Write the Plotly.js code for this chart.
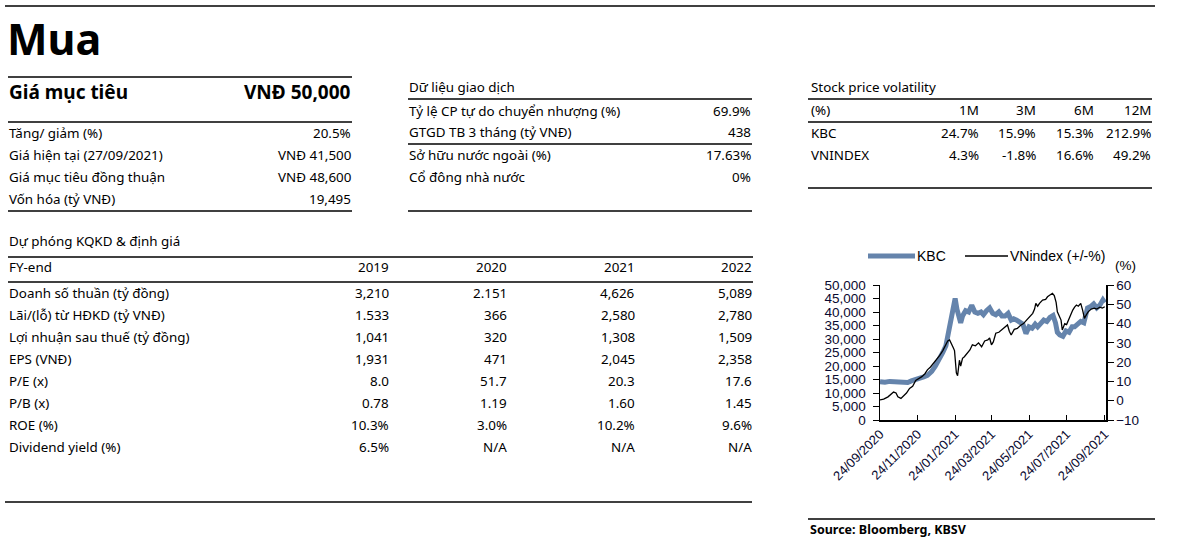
<!DOCTYPE html>
<html><head><meta charset="utf-8">
<script src="https://cdn.plot.ly/plotly-3.0.1.min.js"></script>
<style>html,body{margin:0;padding:0;background:#fff;overflow:hidden}#chart{width:1178px;height:538px}</style>
</head><body><div id="chart"></div>
<script>
// ---------- chart data ----------
const kbcDates = ['2020-09-24','2020-10-02','2020-10-10','2020-10-18','2020-10-26','2020-11-03','2020-11-08','2020-11-14','2020-11-21','2020-11-27','2020-12-04','2020-12-10','2020-12-17','2020-12-23','2020-12-30','2021-01-04','2021-01-09','2021-01-12','2021-01-15','2021-01-18','2021-01-22','2021-01-24','2021-01-27','2021-01-30','2021-02-02','2021-02-05','2021-02-10','2021-02-15','2021-02-20','2021-02-25','2021-03-02','2021-03-07','2021-03-11','2021-03-16','2021-03-21','2021-03-26','2021-03-31','2021-04-05','2021-04-10','2021-04-15','2021-04-20','2021-04-25','2021-04-29','2021-05-04','2021-05-09','2021-05-14','2021-05-19','2021-05-24','2021-05-29','2021-06-03','2021-06-07','2021-06-12','2021-06-17','2021-06-22','2021-06-27','2021-07-02','2021-07-06','2021-07-09','2021-07-13','2021-07-18','2021-07-23','2021-07-28','2021-08-02','2021-08-06','2021-08-11','2021-08-16','2021-08-21','2021-08-24','2021-08-27','2021-09-01','2021-09-06','2021-09-11','2021-09-16','2021-09-21','2021-09-24'];
const kbcPrice = [14200,14000,14300,14100,13800,13600,13900,14500,15200,15800,16000,16500,18000,20000,22500,25000,27500,31000,34000,38500,42000,45000,41000,37500,36000,38500,40500,40000,42500,40000,39500,40000,39000,40500,41500,39500,39000,40000,38500,38500,39500,37000,37500,37000,36000,35500,32000,34500,34000,35500,34500,36000,37000,36500,38000,38700,36000,32500,31500,31000,33000,32500,34500,34500,35500,36500,36000,39500,41500,42000,43000,41500,42500,44500,43500];
const vniDates = ['2020-09-24','2020-09-30','2020-10-07','2020-10-12','2020-10-16','2020-10-20','2020-10-23','2020-10-28','2020-11-02','2020-11-06','2020-11-11','2020-11-16','2020-11-21','2020-11-26','2020-12-01','2020-12-06','2020-12-10','2020-12-15','2020-12-20','2020-12-25','2020-12-30','2021-01-04','2021-01-09','2021-01-12','2021-01-15','2021-01-18','2021-01-21','2021-01-23','2021-01-26','2021-01-28','2021-01-31','2021-02-02','2021-02-05','2021-02-08','2021-02-12','2021-02-17','2021-02-21','2021-02-26','2021-03-03','2021-03-08','2021-03-13','2021-03-18','2021-03-21','2021-03-24','2021-03-27','2021-03-31','2021-04-05','2021-04-09','2021-04-14','2021-04-19','2021-04-22','2021-04-25','2021-04-30','2021-05-05','2021-05-10','2021-05-15','2021-05-20','2021-05-25','2021-05-30','2021-06-02','2021-06-04','2021-06-07','2021-06-10','2021-06-15','2021-06-20','2021-06-23','2021-06-28','2021-07-01','2021-07-04','2021-07-07','2021-07-09','2021-07-12','2021-07-15','2021-07-17','2021-07-21','2021-07-24','2021-07-27','2021-07-30','2021-08-03','2021-08-06','2021-08-09','2021-08-12','2021-08-16','2021-08-19','2021-08-22','2021-08-25','2021-08-28','2021-09-02','2021-09-07','2021-09-11','2021-09-16','2021-09-20','2021-09-24'];
const vniChange = [0.4,0.8,2.0,3.5,4.5,4.0,2.0,1.2,3.0,4.0,6.4,7.5,10.5,11.5,12.5,14.0,16.0,17.5,19.5,21.0,23.5,26.0,29.5,31.0,31.5,29.0,27.5,26.0,14.5,13.0,21.0,18.0,22.0,22.8,24.5,26.3,29.0,28.5,30.0,28.0,31.0,31.5,32.5,29.0,30.5,35.0,35.5,36.5,38.0,39.3,36.0,34.1,37.0,37.5,39.0,40.0,41.8,43.5,45.3,47.5,50.5,49.0,50.5,52.2,52.5,53.9,55.0,55.7,54.5,51.0,46.1,43.5,41.8,36.7,40.0,39.5,42.0,44.0,47.0,48.5,49.6,49.0,50.5,47.0,42.7,44.5,46.1,47.5,48.0,47.5,48.5,48.0,48.7];
const xTickVals = ['2020-09-24','2020-11-24','2021-01-24','2021-03-24','2021-05-24','2021-07-24','2021-09-24'];
const xTickText = ['24/09/2020','24/11/2020','24/01/2021','24/03/2021','24/05/2021','24/07/2021','24/09/2021'];
const leftTickVals = [0,5000,10000,15000,20000,25000,30000,35000,40000,45000,50000];
const rightTickVals = [-10,0,10,20,30,40,50,60];
const seriesNames = ['KBC','VNindex (+/-%)'];

// ---------- table data ----------
const pageTitle = 'Mua';
const targetLabel = 'Giá mục tiêu';
const targetValue = 'VNĐ 50,000';
const summaryLabels = ['Tăng/ giảm (%)','Giá hiện tại (27/09/2021)','Giá mục tiêu đồng thuận','Vốn hóa (tỷ VNĐ)'];
const summaryValues = ['20.5%','VNĐ 41,500','VNĐ 48,600','19,495'];
const tradeTitle = 'Dữ liệu giao dịch';
const tradeLabels = ['Tỷ lệ CP tự do chuyển nhượng (%)','GTGD TB 3 tháng (tỷ VNĐ)','Sở hữu nước ngoài (%)','Cổ đông nhà nước'];
const tradeValues = ['69.9%','438','17.63%','0%'];
const volTitle = 'Stock price volatility';
const volHeaders = ['(%)','1M','3M','6M','12M'];
const volTickers = ['KBC','VNINDEX'];
const volKBC = ['24.7%','15.9%','15.3%','212.9%'];
const volVNI = ['4.3%','-1.8%','16.6%','49.2%'];
const fyTitle = 'Dự phóng KQKD & định giá';
const fyYears = ['2019','2020','2021','2022'];
const fyLabels = ['Doanh số thuần (tỷ đồng)','Lãi/(lỗ) từ HĐKD (tỷ VNĐ)','Lợi nhuận sau thuế (tỷ đồng)','EPS (VNĐ)','P/E (x)','P/B (x)','ROE (%)','Dividend yield (%)'];
const fy2019 = ['3,210','1.533','1,041','1,931','8.0','0.78','10.3%','6.5%'];
const fy2020 = ['2.151','366','320','471','51.7','1.19','3.0%','N/A'];
const fy2021 = ['4,626','2,580','1,308','2,045','20.3','1.60','10.2%','N/A'];
const fy2022 = ['5,089','2,780','1,509','2,358','17.6','1.45','9.6%','N/A'];
const sourceText = 'Source: Bloomberg, KBSV';

// ---------- layout helpers ----------
const W = 1178, H = 538;
const TF = 'Noto Sans, sans-serif';
const CF = 'Liberation Sans, Arial, sans-serif';
const TS = 13.4;
const KBC_COLOR = '#6584AC';
const px = x => x / W, py = y => 1 - y / H;
const ann = [], shapes = [];
function txt(x, y, text, o) {
  ann.push(Object.assign({xref:'paper', yref:'paper', x:px(x), y:py(y), text:text, showarrow:false,
    xanchor:'left', yanchor:'middle', borderpad:0, font:{family:TF, size:TS, color:'#000'}}, o || {}));
}
function rtxt(x, y, text, o) { txt(x, y, text, Object.assign({xanchor:'right'}, o || {})); }
function hline(x0, x1, y, w, c) {
  shapes.push({type:'line', xref:'paper', yref:'paper', x0:px(x0), x1:px(x1), y0:py(y), y1:py(y),
    line:{color:c || '#000', width:w || 1.5}});
}

// top rule
hline(5, 1155, 6);
// title
txt(6, 38, '<b>' + pageTitle + '</b>', {font:{family:TF, size:43, color:'#000'}});
// left block
hline(8, 352, 77);
txt(8, 92, '<b>' + targetLabel + '</b>', {font:{family:TF, size:19, color:'#000'}});
rtxt(352, 92, '<b>' + targetValue + '</b>', {font:{family:TF, size:19, color:'#000'}});
hline(8, 352, 122);
summaryLabels.forEach((l, i) => { txt(8, 133 + 22 * i, l); rtxt(352, 133 + 22 * i, summaryValues[i]); });
hline(8, 352, 211);
// middle block
txt(408, 87, tradeTitle);
hline(408, 752, 99);
const tradeY = [111, 132, 155, 177];
tradeLabels.forEach((l, i) => { txt(408, tradeY[i], l); rtxt(752, tradeY[i], tradeValues[i]); });
hline(408, 752, 144);
hline(408, 752, 211);
// right block
txt(810, 87, volTitle);
hline(808, 1152, 99);
const volX = [980, 1037, 1095, 1152];
txt(810, 110, volHeaders[0]);
volHeaders.slice(1).forEach((h, i) => rtxt(volX[i], 110, h));
hline(808, 1152, 122);
txt(810, 133, volTickers[0]);
txt(810, 155, volTickers[1]);
volKBC.forEach((v, i) => rtxt(volX[i], 133, v));
volVNI.forEach((v, i) => rtxt(volX[i], 155, v));
hline(808, 1152, 188);
// forecast table
txt(8, 241, fyTitle);
hline(8, 753, 257);
txt(8, 267, 'FY-end');
const fyX = [390, 508, 636, 753];
fyYears.forEach((yv, i) => rtxt(fyX[i], 267, yv));
hline(8, 753, 282);
const fyCols = [fy2019, fy2020, fy2021, fy2022];
fyLabels.forEach((l, r) => {
  const yy = 293 + 22 * r;
  txt(8, yy, l);
  fyCols.forEach((col, c) => rtxt(fyX[c], yy, col[r]));
});
hline(5, 752, 502);
// source
hline(808, 1155, 519);
txt(809, 529, '<b>' + sourceText + '</b>', {font:{family:TF, size:12.5, color:'#000'}});
// chart legend (drawn manually to match sample lengths)
hline(868, 915, 256, 5, KBC_COLOR);
txt(916, 256, seriesNames[0], {font:{family:CF, size:14, color:'#000'}});
hline(965, 1008, 256, 1.3, '#000');
txt(1009, 256, seriesNames[1], {font:{family:CF, size:14, color:'#000'}});
// (%) label
txt(1114, 265, '(%)', {font:{family:CF, size:13.5, color:'#000'}});

const traces = [
  {x:kbcDates, y:kbcPrice, type:'scatter', mode:'lines', name:seriesNames[0], line:{color:KBC_COLOR, width:5}, xaxis:'x', yaxis:'y'},
  {x:vniDates, y:vniChange, type:'scatter', mode:'lines', name:seriesNames[1], line:{color:'#000', width:1.3}, xaxis:'x', yaxis:'y2'}
];

const axFont = {family:CF, size:13.5, color:'#0a0a30'};
const layout = {
  width:W, height:H, margin:{l:0, r:0, t:0, b:0}, paper_bgcolor:'#fff', plot_bgcolor:'#fff',
  showlegend:false,
  xaxis:{domain:[px(880), px(1106)], type:'date', range:['2020-09-24','2021-09-26'], tickvals:xTickVals, ticktext:xTickText,
    tickangle:-45, tickfont:{family:CF, size:13, color:'#0a0a30'}, ticks:'inside', ticklen:5, tickcolor:'#000',
    showline:true, linecolor:'#000', linewidth:1.5, showgrid:false, zeroline:false, anchor:'y'},
  yaxis:{domain:[py(420), py(285)], range:[0, 50000], tickvals:leftTickVals, tickformat:',d', tickfont:axFont,
    ticks:'outside', ticklen:6, tickcolor:'#000', ticklabelstandoff:4, showline:true, linecolor:'#000', linewidth:1.5, showgrid:false, zeroline:false, anchor:'x'},
  yaxis2:{overlaying:'y', side:'right', range:[-10, 60], tickvals:rightTickVals, tickfont:axFont,
    ticks:'outside', ticklen:6, tickcolor:'#000', showline:true, linecolor:'#000', linewidth:1.5, showgrid:false, zeroline:false, anchor:'x'},
  annotations:ann, shapes:shapes
};
Plotly.newPlot('chart', traces, layout, {displayModeBar:false, staticPlot:true});
</script></body></html>
